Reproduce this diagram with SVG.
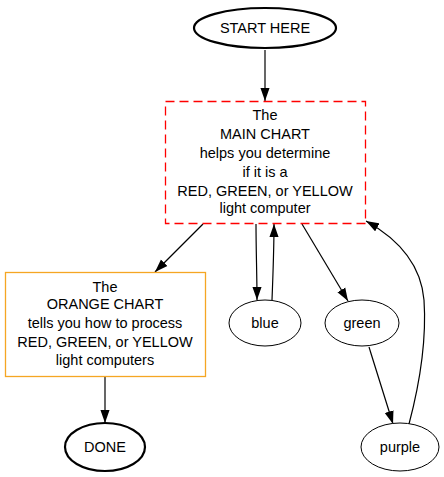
<svg xmlns="http://www.w3.org/2000/svg" width="444" height="477" viewBox="0 0 444 477">
<style>
text{font-family:"Liberation Sans",Arial,sans-serif;font-size:14.5px;fill:#000;text-anchor:middle}
.n{fill:#fff;stroke:#000;stroke-width:1}
.b{fill:#fff;stroke:#000;stroke-width:2.2}
.e{fill:none;stroke:#000;stroke-width:1.2}
</style>
<defs>
<marker id="ah" viewBox="0 0 10 7" refX="10" refY="3.5" markerWidth="13" markerHeight="10" markerUnits="userSpaceOnUse" orient="auto"><path d="M0,0L10,3.5L0,7z" fill="#000"/></marker>
</defs>
<rect width="444" height="477" fill="#fff"/>
<g id="edges">
<path class="e" d="M265,50L265,101" marker-end="url(#ah)"/>
<path class="e" d="M203,224L155,272" marker-end="url(#ah)"/>
<path class="e" d="M256,224C256,250 257,275 257,300" marker-end="url(#ah)"/>
<path class="e" d="M272,300C273,275 274,250 274,224" marker-end="url(#ah)"/>
<path class="e" d="M302,224L348,301" marker-end="url(#ah)"/>
<path class="e" d="M369,347L393,424" marker-end="url(#ah)"/>
<path class="e" d="M409,424C418,390 427,345 424,300C421,265 400,240 366,221" marker-end="url(#ah)"/>
<path class="e" d="M105,376L105,423" marker-end="url(#ah)"/>
</g>
<g id="start">
<ellipse class="b" cx="265" cy="28" rx="71" ry="20"/>
<text x="265" y="33">START HERE</text>
</g>
<g id="main">
<rect x="165.5" y="101.5" width="200" height="122" fill="#fff" stroke="#ff0000" stroke-width="1.3" stroke-dasharray="9,5"/>
<text x="265" y="120">The</text>
<text x="265" y="139">MAIN CHART</text>
<text x="265" y="158">helps you determine</text>
<text x="265" y="177">if it is a</text>
<text x="265" y="196">RED, GREEN, or YELLOW</text>
<text x="265" y="213">light computer</text>
</g>
<g id="orange">
<rect x="5.5" y="272.5" width="200" height="104" fill="#fff" stroke="#f5a623" stroke-width="1.3"/>
<text x="105" y="292">The</text>
<text x="105" y="309">ORANGE CHART</text>
<text x="105" y="328">tells you how to process</text>
<text x="105" y="347">RED, GREEN, or YELLOW</text>
<text x="105" y="365">light computers</text>
</g>
<g id="done">
<ellipse class="b" cx="105" cy="447" rx="40" ry="24"/>
<text x="105" y="452">DONE</text>
</g>
<g id="blue">
<ellipse class="n" cx="265" cy="323" rx="36" ry="23"/>
<text x="265" y="328">blue</text>
</g>
<g id="green">
<ellipse class="n" cx="362" cy="323" rx="37" ry="23"/>
<text x="362" y="328">green</text>
</g>
<g id="purple">
<ellipse class="n" cx="400" cy="447" rx="39" ry="24"/>
<text x="400" y="452">purple</text>
</g>
</svg>
